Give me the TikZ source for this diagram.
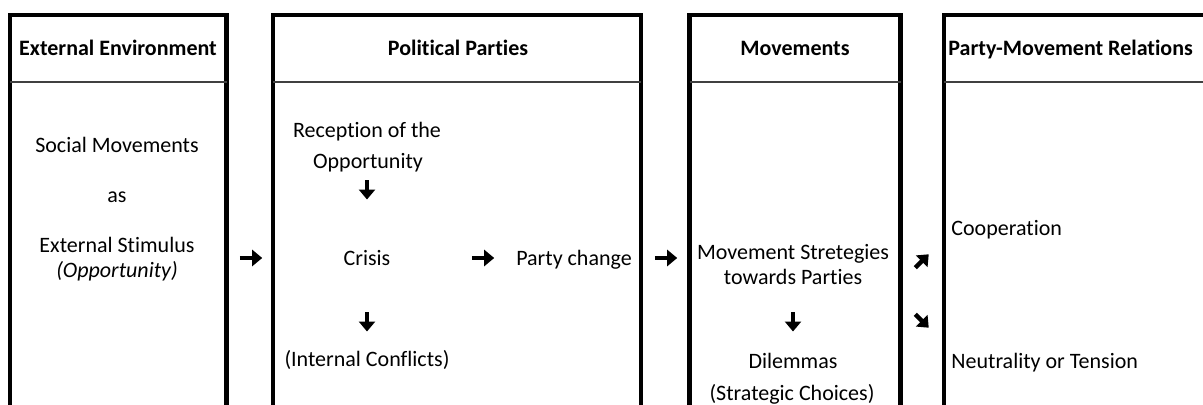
\documentclass[tikz,border=0pt]{standalone}
\usepackage{fontspec}
\setmainfont{Carlito}[Ligatures={NoCommon}]
\usetikzlibrary{arrows.meta}

\newcommand\basesize{\fontsize{11pt}{13pt}\selectfont}

\tikzset{
  frame/.style={line width=2.15pt, line join=miter},
  rule/.style={line width=0.9pt, draw=black!75},
  head/.style={anchor=base, inner sep=0pt, font=\basesize\bfseries},
  txt/.style={anchor=base, inner sep=0pt, font=\basesize},
  ltxt/.style={anchor=base west, inner sep=0pt, font=\basesize},
  pics/garrow/.style={code={
    \draw[line width=2.2pt, -{Triangle[length=5pt,width=8pt]}]
      (-5.6pt,0) -- (5.6pt,0);
  }},
}

\begin{document}
\begin{tikzpicture}[x=0.5pt, y=-0.5pt]
\useasboundingbox (0,0) rectangle (1203,405);
\clip (0,0) rectangle (1203,405);
\fill[white] (0,0) rectangle (1203,405);

% column frames, open at the bottom
\draw[frame] (10,430) |- (226.5,15) -- (226.5,430);
\draw[frame] (273,430) |- (641,15) -- (641,430);
\draw[frame] (689.5,430) |- (900.5,15) -- (900.5,430);
\draw[frame] (944,430) |- (1215,15);

% header separators
\draw[rule] (10,82) -- (226.5,82);
\draw[rule] (273,82) -- (641,82);
\draw[rule] (689.5,82) -- (900.5,82);
\draw[rule] (944,82) -- (1215,82);

% headers
\node[head] (h1) at (118,56) {External Environment};
\node[head] (h2) at (458,56) {Political Parties};
\node[head] (h3) at (795,56) {Movements};
\node[head, anchor=base west] (h4) at (948,56) {Party-Movement Relations};

% external environment
\node[txt] (e1) at (117,153) {Social Movements};
\node[txt] (e2) at (117,203) {as};
\node[txt] (e3) at (117,253) {External Stimulus};
\node[txt] (e4) at (117,278) {\itshape (Opportunity)};

% political parties
\node[txt] (p1) at (367,138) {Reception of the};
\node[txt] (p2) at (368,169) {Opportunity};
\node[txt] (p3) at (367,266) {Crisis};
\node[txt] (p4) at (367,366) {(Internal Conflicts)};
\node[txt] (p5) at (574,266) {Party change};

% movements
\node[txt] (m1) at (793,260) {Movement Stretegies};
\node[txt] (m2) at (793,285) {towards Parties};
\node[txt] (m3) at (793,368) {Dilemmas};
\node[txt] (m4) at (792,400) {(Strategic Choices)};

% relations
\node[ltxt] (r1) at (951,236) {Cooperation};
\node[ltxt] (r2) at (951,368) {Neutrality or Tension};

% arrow marks
\pic at (251,258) {garrow};
\pic at (483,258) {garrow};
\pic at (666,258) {garrow};
\pic[rotate=-90, scale=0.85] at (367,190) {garrow};
\pic[rotate=-90, scale=0.85] at (367,322) {garrow};
\pic[rotate=-90, scale=0.85] at (793,322) {garrow};
\pic[rotate=45, scale=0.85] at (922,261) {garrow};
\pic[rotate=-45, scale=0.85] at (922,321) {garrow};
\end{tikzpicture}
\end{document}
